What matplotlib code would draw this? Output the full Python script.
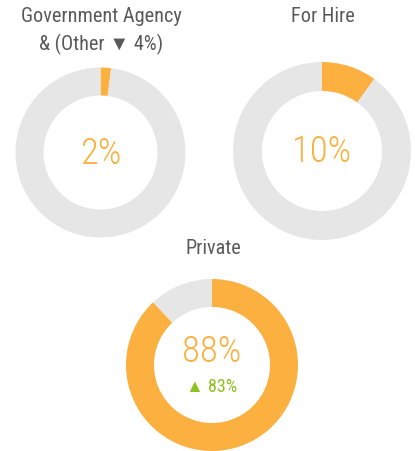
import matplotlib
matplotlib.use("Agg")
import matplotlib.pyplot as plt
from matplotlib import font_manager

# share of trips by operator type, with change vs. previous period
titles = ["Government Agency\n& (Other \u25bc 4%)", "For Hire", "Private"]
shares = [2, 10, 88]
changes = [None, None, "\u25b2 83%"]

# donut layout in pixel coords (x, y from top, outer radius, ring width)
centers = [(100.5, 152.5), (322, 151), (212, 365)]
radii = [85, 89, 86]
ring = [28, 29, 28]
title_y = [31, 17, 248]

ORANGE = "#FBB040"
GRAY = "#E6E6E6"
GREEN = "#8DC21F"
TXT = "#595959"

# prefer a narrow sans if one is installed
names = sorted({f.name for f in font_manager.fontManager.ttflist})
preferred = ["Liberation Sans Narrow", "Arial Narrow", "Roboto Condensed",
             "DejaVu Sans Condensed", "Open Sans Condensed", "Noto Sans Condensed"]
narrow = [n for n in preferred if n in names]
if not narrow:
    narrow = [n for n in names if "Narrow" in n or "Condensed" in n][:1]
FONT = narrow[:1] + ["Liberation Sans", "DejaVu Sans"]
scale = 1.0 if narrow else 0.85

W, H = 415, 451
fig = plt.figure(figsize=(W / 100, H / 100), dpi=100)
ax = fig.add_axes([0, 0, 1, 1])

for i in range(3):
    cx, cy = centers[i]
    cy = H - cy
    ax.pie([shares[i], 100 - shares[i]], colors=[ORANGE, GRAY],
           startangle=90, counterclock=False, center=(cx, cy), radius=radii[i],
           wedgeprops=dict(width=ring[i], edgecolor="none", linewidth=0))
    ax.text(cx + 1, H - title_y[i], titles[i], ha="center", va="center",
            fontsize=14.6 * scale, color=TXT, family=FONT, linespacing=1.45)
    big_y = cy - 1 if changes[i] is None else cy + 13
    ax.text(cx, big_y, f"{shares[i]}%", ha="center", va="center",
            fontsize=26.5 * scale, color=ORANGE, family=FONT, fontweight="light")
    if changes[i] is not None:
        ax.text(cx, cy - 22, changes[i], ha="center", va="center",
                fontsize=13 * scale, color=GREEN, family=FONT)

ax.set_xlim(0, W)
ax.set_ylim(0, H)
ax.set_aspect("equal")
ax.axis("off")
fig.savefig("out.png", dpi=100, facecolor="white")
